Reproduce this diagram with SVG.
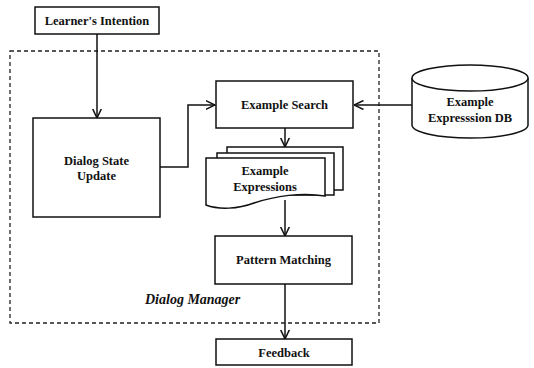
<svg xmlns="http://www.w3.org/2000/svg" width="534" height="368" viewBox="0 0 534 368">
  <style>
    .box { fill: #fff; stroke: #111; stroke-width: 1.5; }
    .frame { fill: none; stroke: #222; stroke-width: 1.3; stroke-dasharray: 4 3; }
    .link { fill: none; stroke: #111; stroke-width: 1.5; }
    .lbl { font-family: 'Liberation Serif', 'DejaVu Serif', 'Times New Roman', serif; font-size: 12.5px; font-weight: bold; fill: #111; text-anchor: middle; }
    .title { font-family: 'Liberation Serif', 'DejaVu Serif', 'Times New Roman', serif; font-size: 14px; font-weight: bold; font-style: italic; fill: #111; }
  </style>
  <defs>
    <marker id="arrow" viewBox="0 0 10 10" refX="9.5" refY="5" markerWidth="10" markerHeight="10" markerUnits="userSpaceOnUse" orient="auto">
      <path d="M0,0.5 L9.5,5 L0,9.5" fill="none" stroke="#111" stroke-width="1.5"/>
    </marker>
  </defs>
  <rect width="534" height="368" fill="#fff"/>

  <!-- Dialog manager boundary -->
  <g id="dialog-manager">
    <rect class="frame" x="10" y="51" width="369" height="272"/>
    <text class="title" x="145" y="304">Dialog Manager</text>
  </g>

  <!-- Connectors -->
  <g id="connectors">
    <path class="link" d="M97,34 V118" marker-end="url(#arrow)"/>
    <path class="link" d="M160,167 H188 V105 H215" marker-end="url(#arrow)"/>
    <path class="link" d="M412,105 H354" marker-end="url(#arrow)"/>
    <path class="link" d="M285,128 V147" marker-end="url(#arrow)"/>
    <path class="link" d="M285,200 V236" marker-end="url(#arrow)"/>
    <path class="link" d="M285,284 V339" marker-end="url(#arrow)"/>
  </g>

  <g id="learners-intention">
    <rect class="box" x="35" y="7" width="124" height="27"/>
    <text class="lbl" x="97" y="25">Learner's Intention</text>
  </g>

  <g id="dialog-state-update">
    <rect class="box" x="33" y="118" width="127" height="99"/>
    <text class="lbl" x="96.5" y="165">Dialog State</text>
    <text class="lbl" x="96.5" y="180">Update</text>
  </g>

  <g id="example-search">
    <rect class="box" x="216" y="81" width="137" height="47"/>
    <text class="lbl" x="284.5" y="109">Example Search</text>
  </g>

  <g id="example-expression-db">
    <path class="box" d="M412,78 V125 A58,13 0 0 0 528,125 V78"/>
    <ellipse class="box" cx="470" cy="78" rx="58" ry="13"/>
    <text class="lbl" x="470" y="106">Example</text>
    <text class="lbl" x="470" y="122">Expresssion DB</text>
  </g>

  <g id="example-expressions">
    <rect class="box" x="227" y="147" width="116" height="43"/>
    <rect class="box" x="217" y="153" width="117" height="42"/>
    <path class="box" d="M206,158 H325 V196 C302,192 275,196 254,203 C238,209 219,210 206,205 Z"/>
    <text class="lbl" x="265" y="175">Example</text>
    <text class="lbl" x="265" y="191">Expressions</text>
  </g>

  <g id="pattern-matching">
    <rect class="box" x="215" y="236" width="137" height="48"/>
    <text class="lbl" x="283.5" y="264">Pattern Matching</text>
  </g>

  <g id="feedback">
    <rect class="box" x="216" y="339" width="136" height="26"/>
    <text class="lbl" x="284" y="357">Feedback</text>
  </g>
</svg>
